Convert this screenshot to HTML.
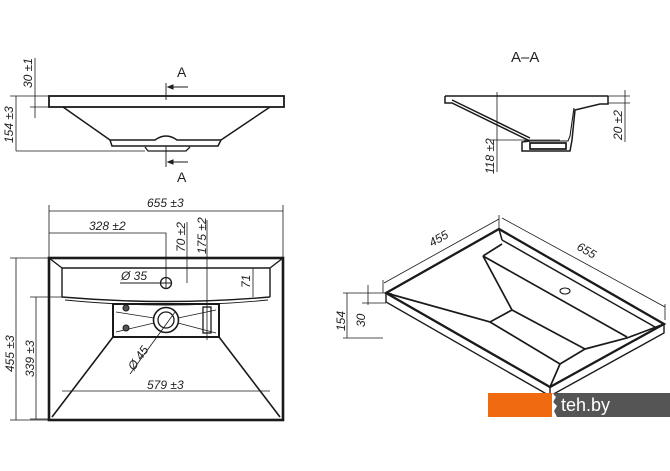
<!DOCTYPE html>
<html><head><meta charset="utf-8"><style>
html,body{margin:0;padding:0;background:#fff;width:670px;height:471px;overflow:hidden}
svg{display:block}
text{font-family:"Liberation Sans",sans-serif;font-style:italic;fill:#222;font-size:12px}
</style></head><body>
<svg width="670" height="471" viewBox="0 0 670 471" xmlns="http://www.w3.org/2000/svg">
<g stroke="#1a1a1a" fill="none" stroke-width="1">
<!-- Top side view -->
<rect x="49" y="96" width="235" height="11" stroke-width="1.8"/>
<path d="M63 107 L110 140 M270 107 L221 140" stroke-width="1.5"/>
<path d="M110 140 H155 Q166 132 177 140 H221 L218 146 H112 Z" stroke-width="1.5"/>
<path d="M145 147 L148 151 H186 L190 147" stroke-width="1.3"/>
<path d="M16 96 V151 M10 96 H49 M16 151 H145 M35 58 V118 M30 107 H49" stroke-width="0.8"/>
<path d="M166 83 V100 M188 87 H168 M166 146 V167 M188 162 H168" stroke-width="0.9"/>
<path d="M168 87 l5 -2 v4 z M168 162 l5 -2 v4 z" fill="#222"/>
<!-- A-A -->
<path d="M445 96 H608 M445 96 V103 H452 L530 141 M452 100 L530 138" stroke-width="1.5"/>
<path d="M530 141 L522 142 V151 H570 L572 140 L575 110 L600 104 H608 V96" stroke-width="1.5"/>
<path d="M524 141 H568 L570 136 L574 108" stroke-width="1.1"/>
<path d="M530 143 H566 V149 H530 Z" stroke-width="1.7"/>
<path d="M497 92 V172 M490 140 H560 M625 90 V142 M608 96 H630 M608 103 H630" stroke-width="0.8"/>
<!-- Front view -->
<rect x="49" y="258" width="234" height="162" stroke-width="2.6"/>
<path d="M49 258 L62 268 M283 258 L270 268 M62 268 H270 V297 M62 268 V297 Q166 306 270 297" stroke-width="1.4"/>
<path d="M65 300 Q166 310 268 300" stroke-width="0.9"/>
<rect x="113" y="304" width="106" height="33" stroke-width="2"/>
<path d="M113 337 L52 417 M219 337 L280 417" stroke-width="1.6"/>
<circle cx="166" cy="320" r="12.5" stroke-width="1.6"/>
<circle cx="166" cy="320" r="8" stroke-width="1.3"/>
<path d="M116 312 L154 318 M116 332 L154 323 M178 318 L216 310 M178 323 L216 333" stroke-width="0.8"/>
<rect x="203" y="307" width="8" height="26" stroke-width="1.3"/>
<circle cx="126" cy="308" r="3" fill="#555"/><circle cx="126" cy="328" r="3" fill="#555"/>
<circle cx="166" cy="283" r="5.5" stroke-width="1.3"/>
<path d="M120 283 H172 M166 277 V289" stroke-width="0.9"/>
<path d="M49 205 V258 M283 205 V258 M49 211 H283 M49 233 H166 V283 M187 222 V283 M207 220 V340 M253 268 V297 M130 374 L175 312 M62 391 H270 M36 297 V419 M16 258 V420 M10 258 H49 M10 420 H49 M30 297 H62 M30 419 H49" stroke-width="0.8"/>
<!-- Iso view -->
<path d="M386 293 L499 229 L664 324 L550 387 Z" stroke-width="2.3"/>
<path d="M386 293 V302 L550 396 L664 333 V324 M550 387 V396" stroke-width="1.4"/>
<path d="M502 240 L655 327 M499 229 L502 240 M386 293 L392 294" stroke-width="1.5"/>
<path d="M483 256 L502 244 M483 256 L627 337 M483 256 L512 310 M386 293 L490 322 L512 310 L585 349 L560 364 L490 322 M560 364 L550 387 M585 349 L627 338 L664 324" stroke-width="1.7"/>
<ellipse cx="565" cy="291" rx="5" ry="3" stroke-width="1.1"/>
<path d="M384 283 L499 219 M499 215 V229 M383 280 V293 M502 218 L665 307 M665 304 V320 M347 293 V338 M343 293 H386 M343 338 H383 M368 285 V305 M362 303 H386" stroke-width="0.8"/>
</g>
<text x="177" y="77" style="font-style:normal;font-size:14px">A</text>
<text x="177" y="182" style="font-style:normal;font-size:14px">A</text>
<text x="511" y="62" style="font-style:normal;font-size:15px">A–A</text>
<text transform="translate(13,143) rotate(-90)">154 ±3</text>
<text transform="translate(32,88) rotate(-90)">30 ±1</text>
<text transform="translate(494,174) rotate(-90)">118 ±2</text>
<text transform="translate(622,140) rotate(-90)">20 ±2</text>
<text x="147" y="207">655 ±3</text>
<text x="89" y="230">328 ±2</text>
<text transform="translate(185,252) rotate(-90)">70 ±2</text>
<text transform="translate(206,254) rotate(-90)">175 ±2</text>
<text transform="translate(250,288) rotate(-90)">71</text>
<text x="121" y="280">Ø 35</text>
<text transform="translate(134,371) rotate(-55)">Ø 45</text>
<text x="147" y="389">579 ±3</text>
<text transform="translate(34,377) rotate(-90)">339 ±3</text>
<text transform="translate(14,372) rotate(-90)">455 ±3</text>
<text transform="translate(432,247) rotate(-30)">455</text>
<text transform="translate(576,249) rotate(30)">655</text>
<text transform="translate(345,331) rotate(-90)">154</text>
<text transform="translate(365,327) rotate(-90)">30</text>
<rect x="488" y="393" width="66" height="24" fill="#f06a10"/>
<rect x="554" y="393" width="116" height="24" fill="#555"/>
<path d="M552 393 l4 4 -3 5 4 4 -3 5 3 6 h-5 z" fill="#fff"/>
<text x="561" y="411" style="font-style:normal;font-size:18px;fill:#fff">teh.by</text>
</svg>
</body></html>
